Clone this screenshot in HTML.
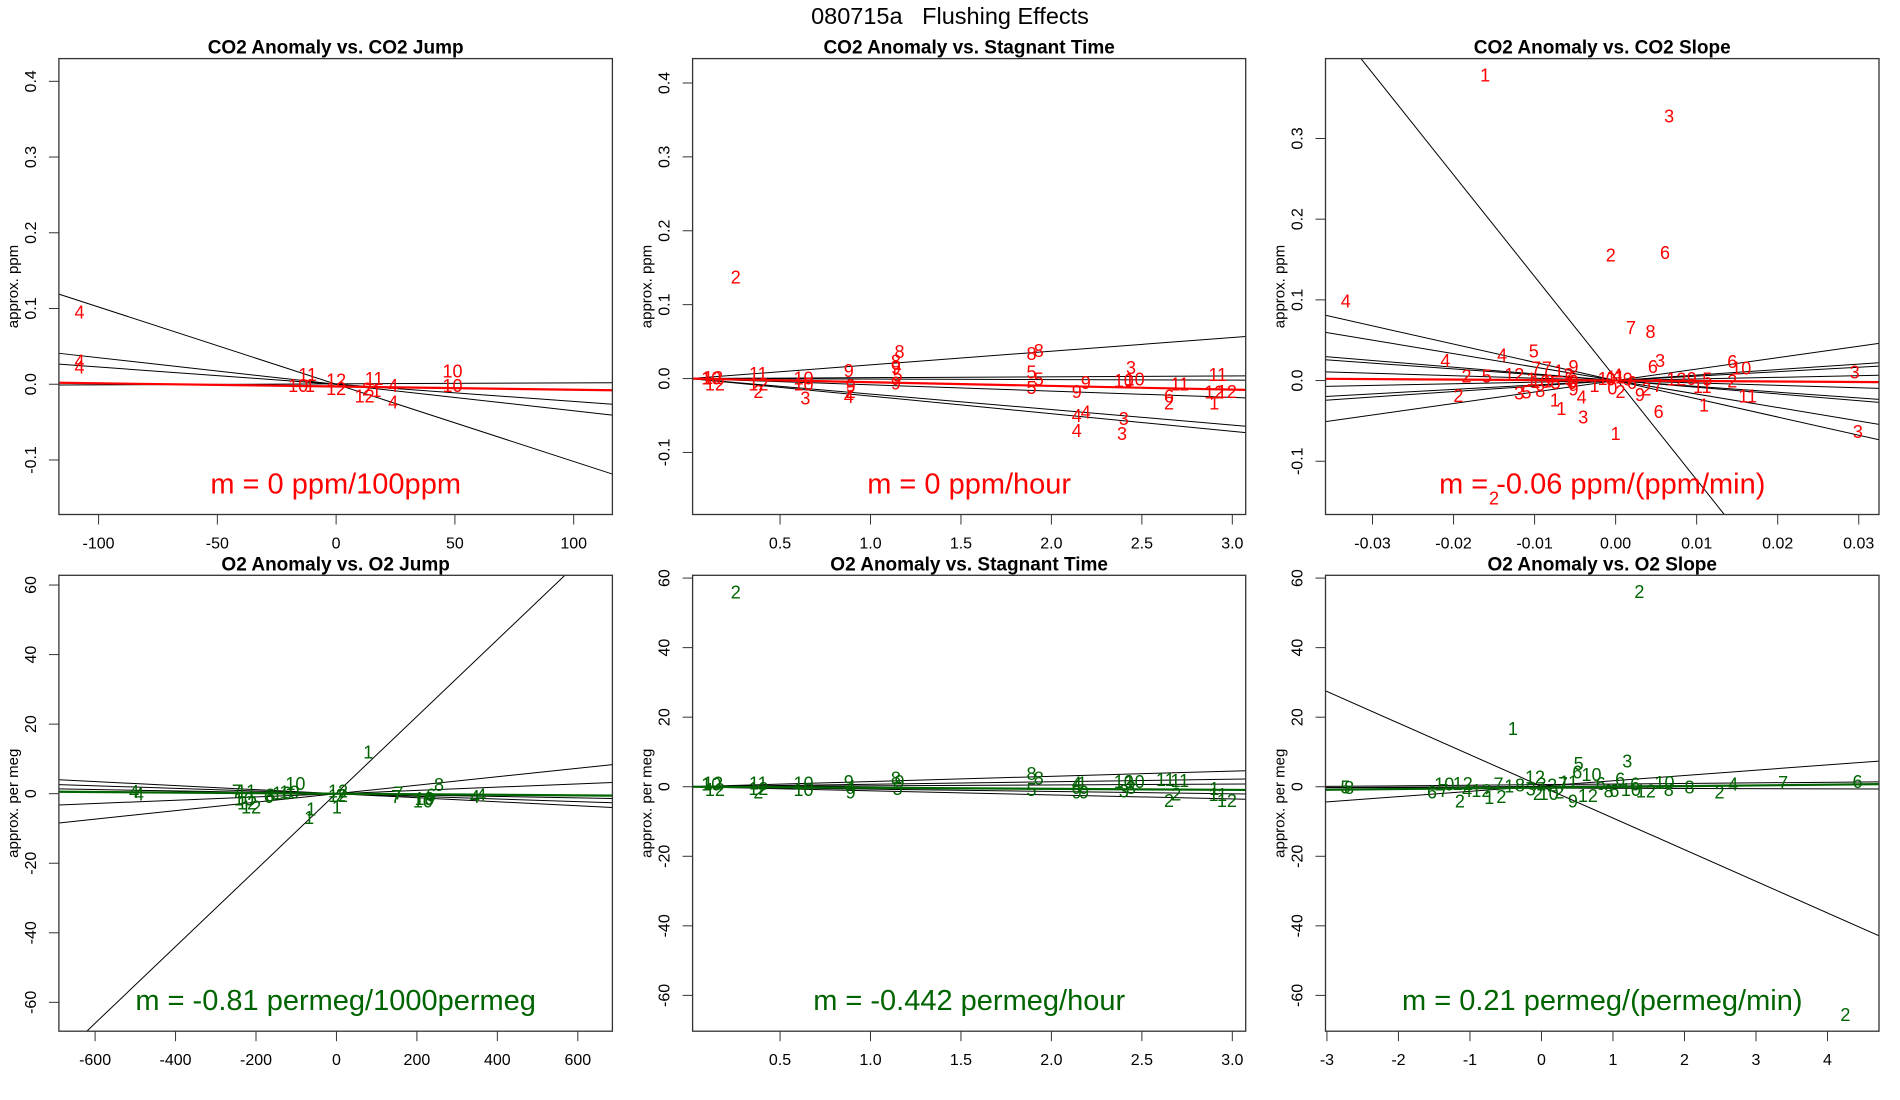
<!DOCTYPE html>
<html><head><meta charset="utf-8"><style>
html,body{margin:0;padding:0;background:#fff;}
svg{display:block;font-family:"Liberation Sans",Arial,sans-serif;}
</style></head><body>
<svg id="fig" width="1900" height="1100" viewBox="0 0 1900 1100" xmlns="http://www.w3.org/2000/svg">
<text x="950" y="24" text-anchor="middle" font-size="23.5" style="white-space:pre">080715a   Flushing Effects</text>
</svg>
<script>
// ---------- Panel 1: CO2 Anomaly vs CO2 Jump ----------
const p1X = [-108,-108,-108,-12,-16,-11,0,0,16,12,17,13,24,24,49,49];
const p1Y = [0.095,0.030,0.022,0.012,-0.002,-0.002,0.005,-0.006,0.007,-0.016,-0.009,-0.007,-0.002,-0.024,0.017,-0.002];
const p1Lab = ["4","4","4","11","10","1","12","12","11","12","1","2","4","4","10","10"];
const p1Int = [0,0,0,0.0005];
const p1Slope = [-0.00102,-0.00035,-0.000227,0.0000128];
const p1Fit = [-0.003,-0.0000427];
// ---------- Panel 2: CO2 Anomaly vs Stagnant Time ----------
const p2X = [0.255,0.13,0.14,0.12,0.38,0.38,0.38,0.63,0.64,0.63,0.88,0.88,0.89,0.89,1.16,1.14,1.14,1.15,1.14,1.89,1.93,1.89,1.93,1.89,2.19,2.14,2.14,2.19,2.14,2.44,2.40,2.46,2.40,2.39,2.65,2.65,2.71,2.92,2.90,2.97,2.90];
const p2Y = [0.137,0.001,-0.008,0.0,0.006,-0.018,-0.008,0.0,-0.027,-0.008,0.010,-0.025,-0.010,-0.018,0.036,0.023,0.014,0.004,-0.007,0.033,0.037,0.008,-0.001,-0.013,-0.006,-0.018,-0.051,-0.046,-0.071,0.014,-0.003,-0.001,-0.055,-0.075,-0.034,-0.024,-0.008,0.005,-0.019,-0.018,-0.034];
const p2Lab = ["2","12","12","10","11","2","12","10","3","10","9","4","9","2","8","8","9","5","9","8","8","5","5","5","9","9","4","4","4","3","10","10","3","3","2","6","11","11","12","12","1"];
const p2Int = [0,0,0,0,0,0];
const p2Slope = [0.0185,0.0012,-0.0007,-0.0085,-0.021,-0.0238];
const p2Fit = [0,-0.005];
// ---------- Panel 3: CO2 Anomaly vs CO2 Slope ----------
const p3X = [-0.0161,0.0066,-0.0006,0.0061,-0.0333,0.0019,0.0043,-0.0101,-0.014,-0.021,0.0046,0.0055,-0.0098,-0.0085,-0.0125,-0.0184,-0.0159,-0.007,-0.0058,-0.0052,0.0144,0.0155,0.0295,0.0075,0.0094,0.0113,0.0144,0.0107,0.0163,0.0109,0.0299,0.0053,0,-0.0040,-0.0042,-0.0075,-0.0067,-0.0194,-0.0119,-0.011,-0.0093,-0.015,0.003,0.0038,0.0052,-0.0016,-0.0006,0,0.0002,0.0015,0.002,-0.0004,0.0006,-0.0026,-0.0052,-0.0052,-0.0093,-0.0082,-0.0074,-0.0104,-0.0057,-0.0054];
const p3Y = [0.378,0.327,0.155,0.158,0.098,0.065,0.060,0.036,0.031,0.024,0.017,0.024,0.015,0.015,0.007,0.005,0.005,0.011,0.007,0.017,0.023,0.015,0.010,0.001,0.002,0.001,-0.001,-0.008,-0.020,-0.031,-0.064,-0.039,-0.066,-0.046,-0.021,-0.025,-0.035,-0.019,-0.016,-0.015,-0.013,-0.146,-0.018,-0.011,-0.007,0.002,0.001,0.004,0.006,0.001,-0.003,-0.010,-0.014,-0.007,-0.011,-0.001,-0.002,-0.001,-0.003,0.001,0.001,-0.003];
const p3Lab = ["1","3","2","6","4","7","8","5","4","4","6","3","7","7","12","2","5","1","2","9","6","10","3","12","9","5","2","11","11","1","3","6","1","3","4","1","1","2","3","5","8","2","9","2","7","1","0","11","4","9","6","0","2","1","9","0","10","9","5","1","5","6"];
const p3Int = [0.003,0,0,0,0,0,0,0,0,0];
const p3Slope = [-12.6,-2.26,-1.67,-0.83,-0.72,-0.3,1.42,0.68,0.55,0.2];
const p3Fit = [0,-0.06];
// ---------- Panel 4: O2 Anomaly vs O2 Jump ----------
const p4X = [79,-503,-491,-248,-236,-212,-230,-212,-222,-168,-164,-135,-117,-102,-63,-68,4,4,11,1,148,154,215,219,230,235,255,344,360];
const p4Y = [11.9,0.5,-0.3,0.7,0.7,0.7,-1.7,-4,-2.8,-1,-0.5,0,0.3,2.8,-4.5,-7,0.7,-0.7,-0.5,-4,-1,0,-2.3,-1.5,-1.5,-0.5,2.5,-1,-0.5];
const p4Lab = ["1","4","4","7","1","1","10","12","12","6","8","10","10","10","1","1","12","12","2","1","7","7","10","10","9","6","8","4","4"];
const p4Int = [0.16,0,0,0,0,0];
const p4Slope = [0.1103,-0.0058,-0.0038,-0.0020,0.0047,0.0122];
const p4Fit = [0,-0.00081];
// ---------- Panel 5: O2 Anomaly vs Stagnant Time ----------
const p5X = [0.255,0.13,0.14,0.12,0.38,0.38,0.38,0.63,0.63,0.88,0.89,0.89,1.14,1.16,1.15,1.89,1.93,1.89,2.14,2.17,2.14,2.18,2.14,2.40,2.46,2.40,2.44,2.63,2.71,2.65,2.69,2.90,2.92,2.97];
const p5Y = [55.8,1,-1,0.7,1,-0.6,-1.6,1,-1,1.4,-1.6,-0.1,2.4,1.4,-0.6,3.6,2.4,-0.9,1,1,-1.6,-1.6,0,1.4,1.4,-1.4,-0.4,1.9,1.6,-4.1,-2.3,-0.6,-2.4,-4.1];
const p5Lab = ["2","12","12","10","11","12","2","10","10","9","9","4","8","9","5","8","8","5","4","1","9","9","4","10","10","3","3","11","11","2","2","1","11","12"];
const p5Int = [0,0,0,0,0];
const p5Slope = [1.5,0.72,0.26,-0.68,-1.17];
const p5Fit = [0,-0.3];
// ---------- Panel 6: O2 Anomaly vs O2 Slope ----------
const p6X = [1.37,4.25,-0.40,1.20,0.52,0.50,0.70,-0.09,1.10,-1.14,-0.73,-0.56,0.44,0.65,-1.53,-1.37,-2.74,-2.69,-1.36,-1.10,-1.04,-0.84,2.68,3.38,4.42,2.07,2.49,1.72,1.78,1.46,1.25,1.31,0.94,1.02,0.83,-0.6,-0.45,-0.3,-0.15,0,0.15,0.3,-0.05,0.1,0.25,0.38];
const p6Y = [56,-65.6,16.6,7.2,6.5,4.1,3.4,2.6,2.1,-4.2,-3.2,-2.9,-4.2,-2.6,-1.6,-1.2,-0.2,-0.4,0.6,0.8,-1.2,-1.2,0.6,1.1,1.4,-0.2,-1.6,1.1,-0.9,-1.4,-0.9,0.6,-1.4,-1.2,0.8,0.6,0,0.4,-0.8,0.6,0.4,0.8,-2.1,-2.1,-1.6,1.2];
const p6Lab = ["2","2","1","3","5","6","10","12","6","2","1","2","9","12","6","7","5","8","10","12","4","12","4","7","6","8","2","10","8","12","10","6","8","6","6","7","1","8","3","2","2","7","2","10","2","11"];
const p6Int = [0.1,0.2,0.6,0.1,-0.4];
const p6Slope = [-9.1,1.52,0.17,0.12,-0.05];
const p6Fit = [-0.25,0.21];

const NS = "http://www.w3.org/2000/svg";
const svg = document.getElementById("fig");
function mk(tag, attrs, parent) {
  const e = document.createElementNS(NS, tag);
  for (const k in attrs) e.setAttribute(k, attrs[k]);
  (parent || svg).appendChild(e);
  return e;
}
const panels = [
  {title:"CO2 Anomaly vs. CO2 Jump", L:58.9,R:612.4,T:58.6,B:514.5, xr:[-116.7,116.3], yr:[-0.172,0.430],
   xt:[-100,-50,0,50,100], xl:["-100","-50","0","50","100"], yt:[-0.1,0,0.1,0.2,0.3,0.4], yl:["-0.1","0.0","0.1","0.2","0.3","0.4"],
   ylab:"approx. ppm", ann:"m = 0 ppm/100ppm", col:"#ff0000", X:p1X,Y:p1Y,Lab:p1Lab,I:p1Int,S:p1Slope,F:p1Fit, key:"co2-jump"},
  {title:"CO2 Anomaly vs. Stagnant Time", L:692.6,R:1245.7,T:58.6,B:514.5, xr:[0.0166,3.074], yr:[-0.184,0.433],
   xt:[0.5,1,1.5,2,2.5,3], xl:["0.5","1.0","1.5","2.0","2.5","3.0"], yt:[-0.1,0,0.1,0.2,0.3,0.4], yl:["-0.1","0.0","0.1","0.2","0.3","0.4"],
   ylab:"approx. ppm", ann:"m = 0 ppm/hour", col:"#ff0000", X:p2X,Y:p2Y,Lab:p2Lab,I:p2Int,S:p2Slope,F:p2Fit, key:"co2-stagnant"},
  {title:"CO2 Anomaly vs. CO2 Slope", L:1325.5,R:1879,T:58.6,B:514.5, xr:[-0.0358,0.0325], yr:[-0.166,0.399],
   xt:[-0.03,-0.02,-0.01,0,0.01,0.02,0.03], xl:["-0.03","-0.02","-0.01","0.00","0.01","0.02","0.03"], yt:[-0.1,0,0.1,0.2,0.3], yl:["-0.1","0.0","0.1","0.2","0.3"],
   ylab:"approx. ppm", ann:"m = -0.06 ppm/(ppm/min)", col:"#ff0000", X:p3X,Y:p3Y,Lab:p3Lab,I:p3Int,S:p3Slope,F:p3Fit, key:"co2-slope"},
  {title:"O2 Anomaly vs. O2 Jump", L:58.9,R:612.4,T:575.3,B:1031.2, xr:[-690,686], yr:[-68.3,62.8],
   xt:[-600,-400,-200,0,200,400,600], xl:["-600","-400","-200","0","200","400","600"], yt:[-60,-40,-20,0,20,40,60], yl:["-60","-40","-20","0","20","40","60"],
   ylab:"approx. per meg", ann:"m = -0.81 permeg/1000permeg", col:"#006400", X:p4X,Y:p4Y,Lab:p4Lab,I:p4Int,S:p4Slope,F:p4Fit, key:"o2-jump"},
  {title:"O2 Anomaly vs. Stagnant Time", L:692.6,R:1245.7,T:575.3,B:1031.2, xr:[0.0166,3.074], yr:[-70.3,60.8],
   xt:[0.5,1,1.5,2,2.5,3], xl:["0.5","1.0","1.5","2.0","2.5","3.0"], yt:[-60,-40,-20,0,20,40,60], yl:["-60","-40","-20","0","20","40","60"],
   ylab:"approx. per meg", ann:"m = -0.442 permeg/hour", col:"#006400", X:p5X,Y:p5Y,Lab:p5Lab,I:p5Int,S:p5Slope,F:p5Fit, key:"o2-stagnant"},
  {title:"O2 Anomaly vs. O2 Slope", L:1325.5,R:1879,T:575.3,B:1031.2, xr:[-3.02,4.72], yr:[-70.3,60.8],
   xt:[-3,-2,-1,0,1,2,3,4], xl:["-3","-2","-1","0","1","2","3","4"], yt:[-60,-40,-20,0,20,40,60], yl:["-60","-40","-20","0","20","40","60"],
   ylab:"approx. per meg", ann:"m = 0.21 permeg/(permeg/min)", col:"#006400", X:p6X,Y:p6Y,Lab:p6Lab,I:p6Int,S:p6Slope,F:p6Fit, key:"o2-slope"}
];
panels.forEach((p, pi) => {
  const sx = v => p.L + (v - p.xr[0]) / (p.xr[1] - p.xr[0]) * (p.R - p.L);
  const sy = v => p.B - (v - p.yr[0]) / (p.yr[1] - p.yr[0]) * (p.B - p.T);
  const g = mk("g", {});
  
  
  const cp = mk("clipPath", {id: "clip" + pi}, g);
  mk("rect", {x:p.L, y:p.T, width:p.R-p.L, height:p.B-p.T}, cp);
  const t = mk("text", {x:(p.L+p.R)/2, y:p.T-5, "text-anchor":"middle", "font-size":"19", "font-weight":"bold"}, g);
  t.textContent = p.title;
  
  
  const lg = mk("g", {"clip-path":"url(#clip"+pi+")"}, g);
  p.I.forEach((b, i) => {
    const l = mk("line", {x1:sx(p.xr[0]), y1:sy(b + p.S[i]*p.xr[0]), x2:sx(p.xr[1]), y2:sy(b + p.S[i]*p.xr[1]), stroke:"#000", "stroke-width":"1"}, lg);
    
    
  });
  const fl = mk("line", {x1:sx(p.xr[0]), y1:sy(p.F[0] + p.F[1]*p.xr[0]), x2:sx(p.xr[1]), y2:sy(p.F[0] + p.F[1]*p.xr[1]), stroke:p.col, "stroke-width":"2.2"}, lg);
  
  
  const pg = mk("g", {"clip-path":"url(#clip"+pi+")"}, g);
  p.X.forEach((xv, i) => {
    const tx = mk("text", {x:sx(xv), y:sy(p.Y[i]) + 6, "text-anchor":"middle", "font-size":"18", fill:p.col}, pg);
    tx.textContent = p.Lab[i];
    
    
  });
  const fr = mk("rect", {x:p.L, y:p.T, width:p.R-p.L, height:p.B-p.T, fill:"none", stroke:"#333", "stroke-width":"1.3"}, g);
  
  
  p.xt.forEach((v, i) => {
    mk("line", {x1:sx(v), y1:p.B, x2:sx(v), y2:p.B+10, stroke:"#333", "stroke-width":"1"}, g);
    const tl = mk("text", {x:sx(v), y:p.B+34, "text-anchor":"middle", "font-size":"16"}, g);
    tl.textContent = p.xl[i];
    
    
  });
  p.yt.forEach((v, i) => {
    mk("line", {x1:p.L-10, y1:sy(v), x2:p.L, y2:sy(v), stroke:"#333", "stroke-width":"1"}, g);
    const tl = mk("text", {x:0, y:0, "text-anchor":"middle", "font-size":"16", transform:"translate("+(p.L-23)+","+sy(v)+") rotate(-90)"}, g);
    tl.textContent = p.yl[i];
    
    
  });
  const yl = mk("text", {x:0, y:0, "text-anchor":"middle", "font-size":"15", transform:"translate("+(p.L-41)+","+((p.T+p.B)/2)+") rotate(-90)"}, g);
  yl.textContent = p.ylab;
  
  
  const an = mk("text", {x:(p.L+p.R)/2, y:p.B-21, "text-anchor":"middle", "font-size":"29", fill:p.col}, g);
  an.textContent = p.ann;
  
  
});
</script>
</body></html>
